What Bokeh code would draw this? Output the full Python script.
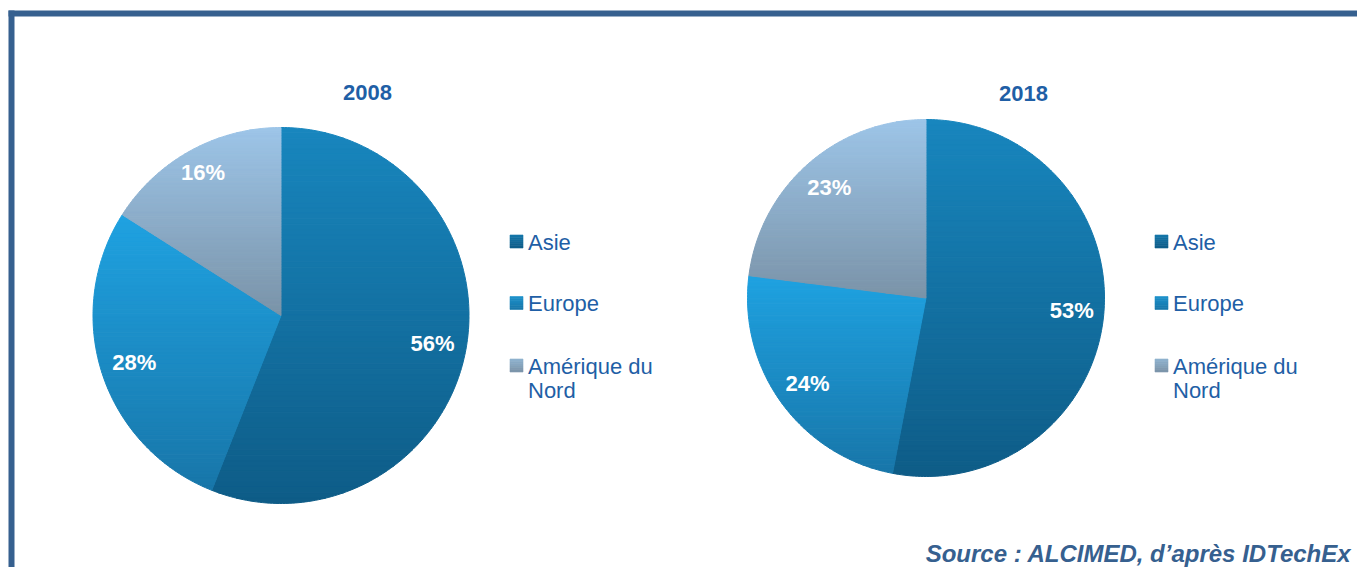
import math
from bokeh.plotting import figure
from bokeh.models import Range1d
from bokeh.embed import file_html
from bokeh.resources import INLINE
from bokeh.core.properties import value

# ---------------- data ----------------
regions = ["Asie", "Europe", "Amérique du Nord"]
years = ["2008", "2018"]
shares_2008 = [56, 28, 16]
shares_2018 = [53, 24, 23]
source_text = "Source : ALCIMED, d’après IDTechEx"

# ---------------- styles ----------------
grad_top = ["#1886BE", "#1FA2E1", "#9DC5E8"]
grad_bot = ["#0E5C87", "#1876A9", "#7A93A8"]
border_col = "#36608F"
text_col = "#1F5FA6"
FONT_V = value("Liberation Sans")

W, H = 1357, 567
p = figure(width=W, height=H, output_backend="svg", toolbar_location=None,
           x_range=Range1d(0, W), y_range=Range1d(H, 0), min_border=0)
p.axis.visible = False
p.grid.visible = False
p.outline_line_color = None
p.background_fill_color = "white"
p.border_fill_color = "white"

# frame lines
p.quad(left=[8], right=[W], top=[10], bottom=[16], fill_color=border_col, line_color=None)
p.quad(left=[8], right=[14], top=[10], bottom=[H], fill_color=border_col, line_color=None)


def hex2rgb(h):
    h = h.lstrip("#")
    return tuple(int(h[i:i + 2], 16) for i in (0, 2, 4))


def mix(c1, c2, t):
    a, b = hex2rgb(c1), hex2rgb(c2)
    return "#%02x%02x%02x" % tuple(round(a[i] + (b[i] - a[i]) * t) for i in range(3))


def clip_half(pts, inside, cut):
    out = []
    for i in range(len(pts)):
        cur, prev = pts[i], pts[i - 1]
        if inside(cur):
            if not inside(prev):
                out.append(cut(prev, cur))
            out.append(cur)
        elif inside(prev):
            out.append(cut(prev, cur))
    return out


def cut_at(yc):
    def f(a, b):
        t = (yc - a[1]) / (b[1] - a[1])
        return (a[0] + t * (b[0] - a[0]), yc)
    return f


def clip_strip(pts, y0, y1):
    pts = clip_half(pts, lambda q: q[1] >= y0, cut_at(y0))
    if not pts:
        return pts
    return clip_half(pts, lambda q: q[1] <= y1, cut_at(y1))


def draw_pie(cx, cy, r, shares, nbands=70):
    total = float(sum(shares))
    cum = 0.0
    xs_all, ys_all, cols = [], [], []
    label_pos = []
    for k, v in enumerate(shares):
        a0 = cum / total * 2 * math.pi
        a1 = (cum + v) / total * 2 * math.pi
        cum += v
        nseg = max(4, int((a1 - a0) / (2 * math.pi) * 360))
        poly = [(cx, cy)]
        for j in range(nseg + 1):
            a = a0 + (a1 - a0) * j / nseg
            poly.append((cx + r * math.sin(a), cy - r * math.cos(a)))
        ymin = min(q[1] for q in poly)
        ymax = max(q[1] for q in poly)
        for b in range(nbands):
            y0 = ymin + (ymax - ymin) * b / nbands
            y1 = ymin + (ymax - ymin) * (b + 1) / nbands
            piece = clip_strip(poly, y0, y1)
            if len(piece) < 3:
                continue
            xs_all.append([q[0] for q in piece])
            ys_all.append([q[1] for q in piece])
            cols.append(mix(grad_top[k], grad_bot[k], (b + 0.5) / nbands))
        am = (a0 + a1) / 2
        f = 0.82 if v >= 20 else 0.86
        label_pos.append((cx + f * r * math.sin(am), cy - f * r * math.cos(am) - 1, "%d%%" % v))
    p.patches(xs_all, ys_all, fill_color=cols, line_color=cols, line_width=1)
    p.text(x=[q[0] for q in label_pos], y=[q[1] for q in label_pos], text=[q[2] for q in label_pos],
           text_color="white", text_font=FONT_V, text_font_style="bold", text_font_size="22px",
           text_align="center", text_baseline="middle")


def draw_legend(x, ys):
    for k, name in enumerate(regions):
        y = ys[k]
        nb = 6
        lefts, rights, tops, bots, cs = [], [], [], [], []
        for b in range(nb):
            lefts.append(x)
            rights.append(x + 13)
            tops.append(y - 6.5 + 13 * b / nb)
            bots.append(y - 6.5 + 13 * (b + 1) / nb)
            cs.append(mix(grad_top[k], grad_bot[k], 0.35 + 0.65 * (b + 0.5) / nb))
        p.quad(left=lefts, right=rights, top=tops, bottom=bots, fill_color=cs, line_color=cs, line_width=0.6)
        words = name.split(" ")
        lines = [name] if len(name) <= 12 else [" ".join(words[:-1]), words[-1]]
        p.text(x=[x + 18] * len(lines), y=[y + 0.5 + 24 * i for i in range(len(lines))], text=lines,
               text_color=text_col, text_font=FONT_V, text_font_size="22px",
               text_align="left", text_baseline="middle")


pies = [(280.5, 315.0, 188.0, shares_2008, 367, 92),
        (925.5, 297.5, 178.5, shares_2018, 1023, 93)]
legend_y = [241, 302.5, 365]
for (cx, cy, r, sh, tx, ty), yr in zip(pies, years):
    draw_pie(cx, cy, r, sh)
    p.text(x=[tx], y=[ty], text=[yr], text_color=text_col, text_font=FONT_V,
           text_font_style="bold", text_font_size="22px", text_align="center", text_baseline="middle")
    draw_legend(cx + 229, legend_y)

p.text(x=[1351], y=[553], text=[source_text], text_color=border_col, text_font=FONT_V,
       text_font_style="bold italic", text_font_size="24px", text_align="right", text_baseline="middle")

open("out.html", "w").write(file_html(p, INLINE))
